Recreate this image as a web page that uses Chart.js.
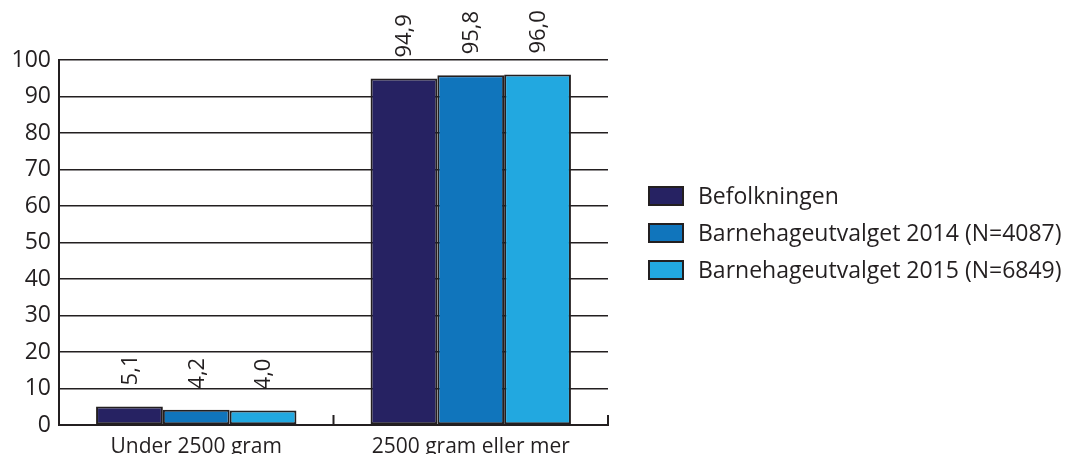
<!DOCTYPE html>
<html>
<head>
<meta charset="utf-8">
<script src="https://cdn.jsdelivr.net/npm/chart.js@4/dist/chart.umd.min.js"></script>
<style>
  html, body { margin: 0; padding: 0; background: #ffffff; }
  #wrap { width: 1070px; height: 454px; }
</style>
</head>
<body>
<div id="wrap"><canvas id="c" width="1070" height="454"></canvas></div>
<script>
const categories = ["Under 2500 gram", "2500 gram eller mer"];
const seriesNames = ["Befolkningen", "Barnehageutvalget 2014 (N=4087)", "Barnehageutvalget 2015 (N=6849)"];
const befolkningen = [5.1, 94.9];
const utvalg2014 = [4.2, 95.8];
const utvalg2015 = [4.0, 96.0];
const yTicks = [0, 10, 20, 30, 40, 50, 60, 70, 80, 90, 100];
const colors = ["#262262", "#1075bc", "#22a8e0"];

const FONT = "'Open Sans', 'DejaVu Sans', sans-serif";
const INK = "#231f20";

const valueLabels = {
  id: "valueLabels",
  afterDatasetsDraw(chart) {
    const ctx = chart.ctx;
    ctx.save();
    ctx.fillStyle = INK;
    ctx.font = "22px " + FONT;
    chart.data.datasets.forEach((ds, di) => {
      const meta = chart.getDatasetMeta(di);
      meta.data.forEach((el, i) => {
        const txt = ds.data[i].toFixed(1).replace(".", ",");
        ctx.save();
        ctx.translate(el.x, el.y - 21);
        ctx.rotate(-Math.PI / 2);
        ctx.textAlign = "left";
        ctx.textBaseline = "middle";
        ctx.fillText(txt, 0, 1);
        ctx.restore();
      });
    });
    ctx.restore();
  }
};

const axisExtras = {
  id: "axisExtras",
  afterDraw(chart) {
    const ctx = chart.ctx;
    const x = chart.scales.x;
    const area = chart.chartArea;
    ctx.save();
    ctx.strokeStyle = INK;
    ctx.lineWidth = 2;
    const n = chart.data.labels.length;
    const step = (x.right - x.left) / n;
    for (let i = 1; i <= n; i++) {
      const px = x.left + step * i;
      ctx.beginPath();
      ctx.moveTo(px, area.bottom);
      ctx.lineTo(px, area.bottom - 10);
      ctx.stroke();
    }
    // legend
    const lx = 649, ly0 = 196, dy = 37;
    ctx.font = "23px " + FONT;
    ctx.textBaseline = "middle";
    ctx.textAlign = "left";
    chart.data.datasets.forEach((ds, i) => {
      const y = ly0 + dy * i;
      ctx.fillStyle = ds.backgroundColor;
      ctx.fillRect(lx, y - 9, 34, 18);
      ctx.lineWidth = 2;
      ctx.strokeStyle = INK;
      ctx.strokeRect(lx, y - 9, 34, 18);
      ctx.fillStyle = INK;
      ctx.fillText(ds.label, lx + 49, y + 1);
    });
    ctx.restore();
  }
};

new Chart(document.getElementById("c"), {
  type: "bar",
  data: {
    labels: categories,
    datasets: [
      { label: seriesNames[0], data: befolkningen, backgroundColor: colors[0] },
      { label: seriesNames[1], data: utvalg2014, backgroundColor: colors[1] },
      { label: seriesNames[2], data: utvalg2015, backgroundColor: colors[2] }
    ].map(d => Object.assign(d, { borderColor: INK, borderWidth: 2, borderSkipped: false }))
  },
  options: {
    responsive: false,
    animation: false,
    devicePixelRatio: 1,
    layout: { padding: { left: 0, right: 462, top: 60, bottom: 0 } },
    plugins: { legend: { display: false }, tooltip: { enabled: false } },
    datasets: { bar: { categoryPercentage: 0.73, barPercentage: 1.0 } },
    scales: {
      x: {
        grid: { display: false },
        border: { display: true, color: INK, width: 2 },
        ticks: { color: INK, font: { family: FONT, size: 21 }, padding: 1, maxRotation: 0 },
        afterFit(s) { s.height = 29; }
      },
      y: {
        min: 0, max: 100,
        afterBuildTicks(s) { s.ticks = yTicks.map(v => ({ value: v })); },
        grid: { color: INK, lineWidth: 1.5, drawTicks: false },
        border: { display: true, color: INK, width: 2 },
        ticks: { color: INK, font: { family: FONT, size: 23 }, padding: 8 },
        afterFit(s) { s.width = 59; }
      }
    }
  },
  plugins: [valueLabels, axisExtras]
});
</script>
</body>
</html>
